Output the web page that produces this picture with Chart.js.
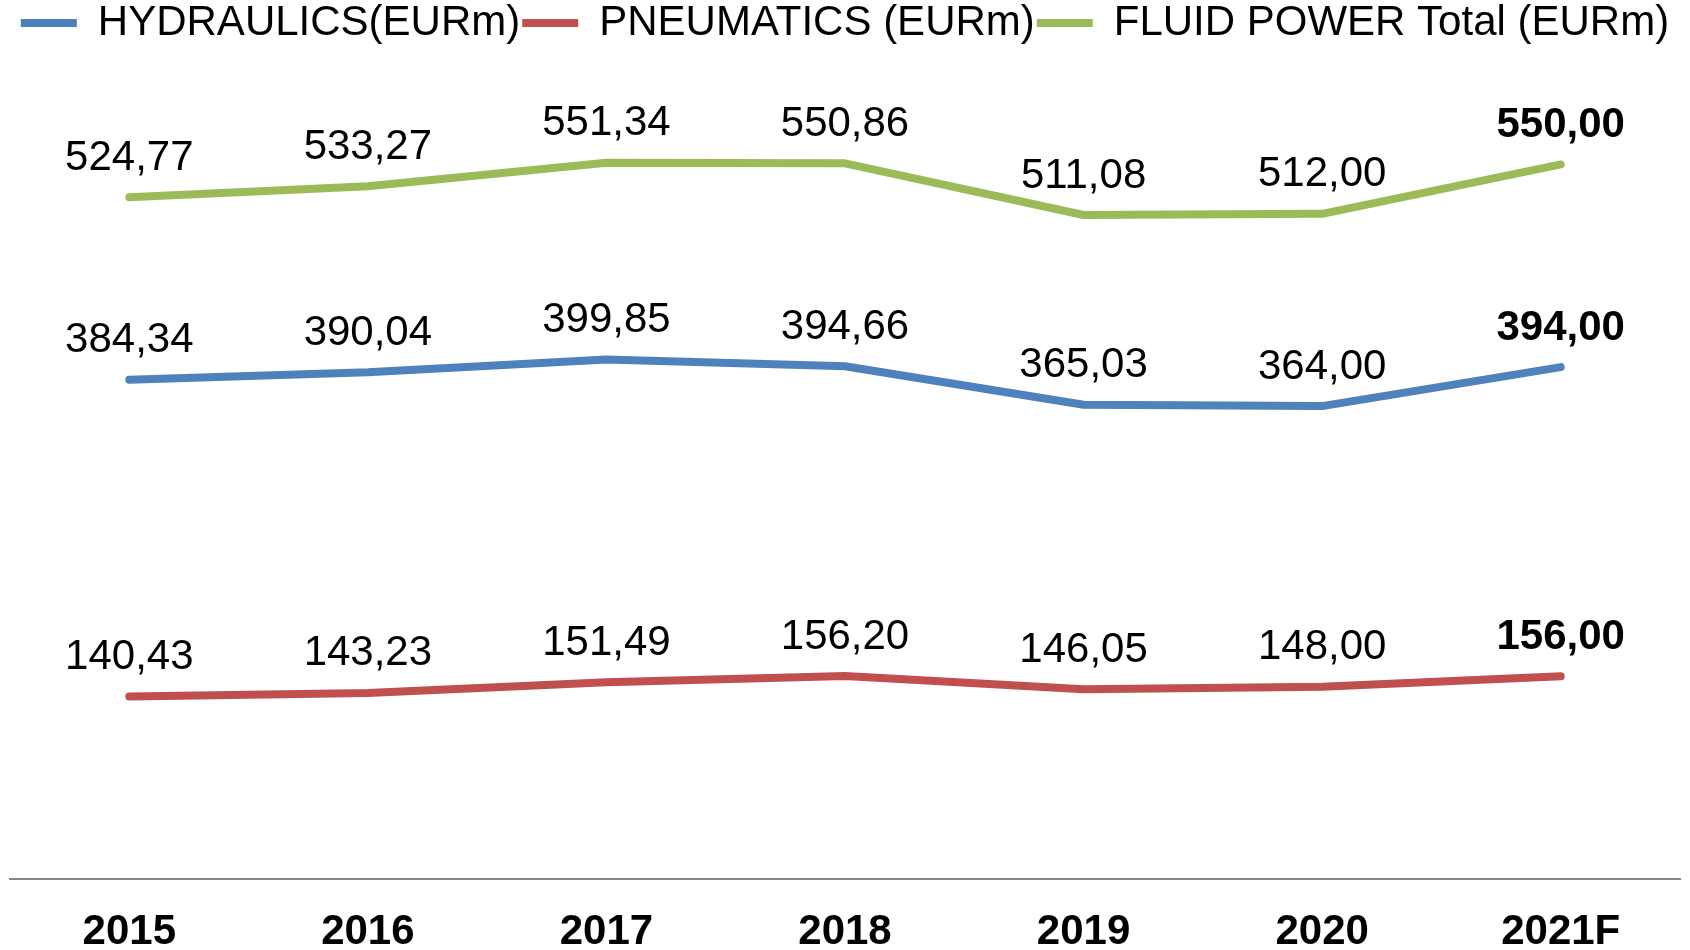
<!DOCTYPE html>
<html>
<head>
<meta charset="utf-8">
<script src="https://cdn.jsdelivr.net/npm/chart.js@4.4.1/dist/chart.umd.min.js"></script>
<style>
  html, body { margin: 0; padding: 0; background: #ffffff; }
  #wrap { width: 1690px; height: 950px; position: relative; }
</style>
</head>
<body>
<div id="wrap"><canvas id="c" width="1690" height="950"></canvas></div>
<script>
const categories = ['2015', '2016', '2017', '2018', '2019', '2020', '2021F'];
const hydraulics = [384.34, 390.04, 399.85, 394.66, 365.03, 364.00, 394.00];
const pneumatics = [140.43, 143.23, 151.49, 156.20, 146.05, 148.00, 156.00];
const fluidPower = [524.77, 533.27, 551.34, 550.86, 511.08, 512.00, 550.00];
const seriesNames = ['HYDRAULICS(EURm)', 'PNEUMATICS (EURm)', 'FLUID POWER Total (EURm)'];
const seriesColors = ['#4F81BD', '#C0504D', '#9BBB59'];

const FONT = "'Liberation Sans', Arial, sans-serif";

const labelPlugin = {
  id: 'valueLabels',
  afterDatasetsDraw(chart) {
    const ctx = chart.ctx;
    ctx.save();
    ctx.fillStyle = '#000000';
    ctx.textAlign = 'center';
    ctx.textBaseline = 'middle';
    chart.data.datasets.forEach((ds, di) => {
      const meta = chart.getDatasetMeta(di);
      meta.data.forEach((pt, i) => {
        const last = i === ds.data.length - 1;
        ctx.font = (last ? 'bold ' : '') + '42px ' + FONT;
        const txt = ds.data[i].toFixed(2).replace('.', ',');
        ctx.fillText(txt, pt.x, pt.y - 39);
      });
    });
    ctx.restore();
  }
};

function mkDs(i, data) {
  return {
    label: seriesNames[i],
    data: data,
    borderColor: seriesColors[i],
    backgroundColor: seriesColors[i],
    borderWidth: 8,
    borderCapStyle: 'round',
    borderJoinStyle: 'round',
    pointRadius: 0,
    pointHoverRadius: 0,
    tension: 0,
    fill: false
  };
}

new Chart(document.getElementById('c'), {
  type: 'line',
  data: {
    labels: categories,
    datasets: [mkDs(0, hydraulics), mkDs(1, pneumatics), mkDs(2, fluidPower)]
  },
  options: {
    responsive: false,
    animation: false,
    devicePixelRatio: 1,
    layout: { padding: { left: 10, right: 10, top: 0, bottom: 0 } },
    plugins: {
      tooltip: { enabled: false },
      legend: {
        display: true,
        position: 'top',
        labels: {
          usePointStyle: true,
          pointStyle: 'line',
          pointStyleWidth: 56,
          boxHeight: 8,
          padding: 2,
          color: '#000000',
          font: { family: FONT, size: 42 }
        }
      }
    },
    scales: {
      x: {
        type: 'category',
        offset: true,
        grid: { display: false },
        border: { display: true, color: '#868686', width: 2 },
        afterFit(scale) { scale.height = 71; },
        ticks: {
          color: '#000000',
          padding: 20,
          maxRotation: 0,
          font: { family: FONT, size: 42, weight: 'bold' }
        }
      },
      y: {
        display: false,
        min: 0,
        max: 635
      }
    }
  },
  plugins: [labelPlugin]
});
</script>
</body>
</html>
